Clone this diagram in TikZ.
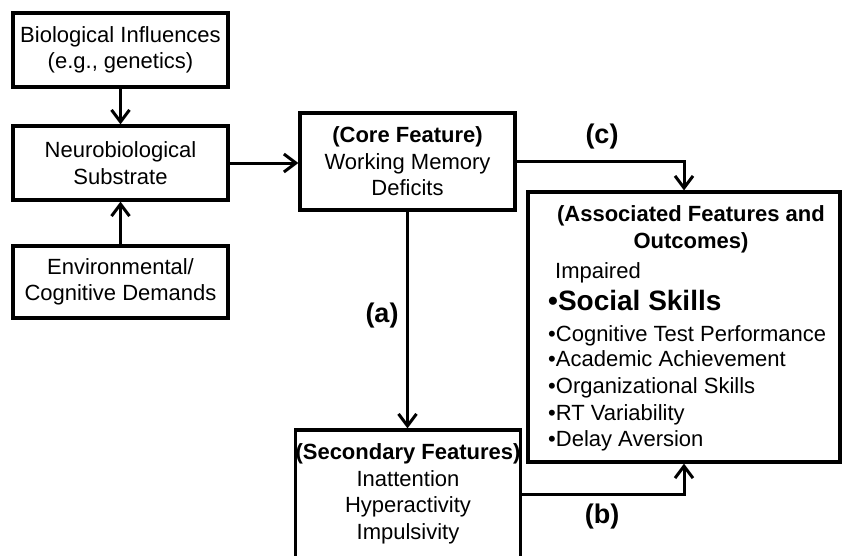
\documentclass[tikz,border=0pt]{standalone}
\usepackage{fontspec}
\setmainfont{Liberation Sans}
\usetikzlibrary{arrows.meta}
\begin{document}
\begin{tikzpicture}[x=1pt,y=-1pt,
  box/.style={draw, line width=3.2pt, rectangle, align=center, inner sep=0pt, font=\fontsize{22}{26.5}\selectfont},
  conn/.style={line width=3pt, -{Straight Barb[length=12pt,width=18pt]}},
  lbl/.style={font=\fontsize{27}{30}\selectfont\bfseries},
  item/.style={anchor=base west, inner sep=0pt, font=\fontsize{22}{26.5}\selectfont}]
\useasboundingbox (0,0) rectangle (843,555);
\clip (0,0) rectangle (843,555);
\node[box, minimum width=215, minimum height=74] (bio) at (120.5,50) {Biological Influences\\(e.g., genetics)};
\node[box, minimum width=215, minimum height=74] (neuro) at (120.5,163) {Neurobiological\\Substrate};
\node[box, minimum width=215, minimum height=72] (env) at (120.5,282) {Environmental/\\Cognitive Demands};
\node[box, minimum width=215, minimum height=97] (core) at (407.5,161.5) {{\bfseries (Core Feature)}\\Working Memory\\Deficits};
\node[box, minimum width=312, minimum height=270] (assoc) at (684,327) {};
\node[box, minimum width=214, minimum height=128] (sec) at (408,494) {{\bfseries (Secondary Features)}\\Inattention\\Hyperactivity\\Impulsivity};
\node[align=center, inner sep=0pt, font=\fontsize{22}{26.5}\selectfont\bfseries] (atitle) at (691,229.5) {(Associated Features and\\Outcomes)};
\node[item] (i0) at (555,278) {Impaired};
\node[item, font=\fontsize{28}{32}\selectfont\bfseries] (i1) at (548,310) {•Social Skills};
\node[item] (i2) at (548,341) {•Cognitive Test Performance};
\node[item] (i3) at (548,366) {•Academic Achievement};
\node[item] (i4) at (548,393) {•Organizational Skills};
\node[item] (i5) at (548,420) {•RT Variability};
\node[item] (i6) at (548,446) {•Delay Aversion};
\draw[conn] (bio) -- (neuro);
\draw[conn] (env) -- (neuro);
\draw[conn] (neuro.east) -- (neuro.east -| core.west);
\draw[conn] (core.east) -| (assoc.north);
\draw[conn] (core.south) -- (core.south |- sec.north);
\draw[conn] (sec.east) -| (assoc.south);
\node[lbl] (la) at (382,316) {(a)};
\node[lbl] (lb) at (602,517) {(b)};
\node[lbl] (lc) at (602,137) {(c)};
\end{tikzpicture}
\end{document}
